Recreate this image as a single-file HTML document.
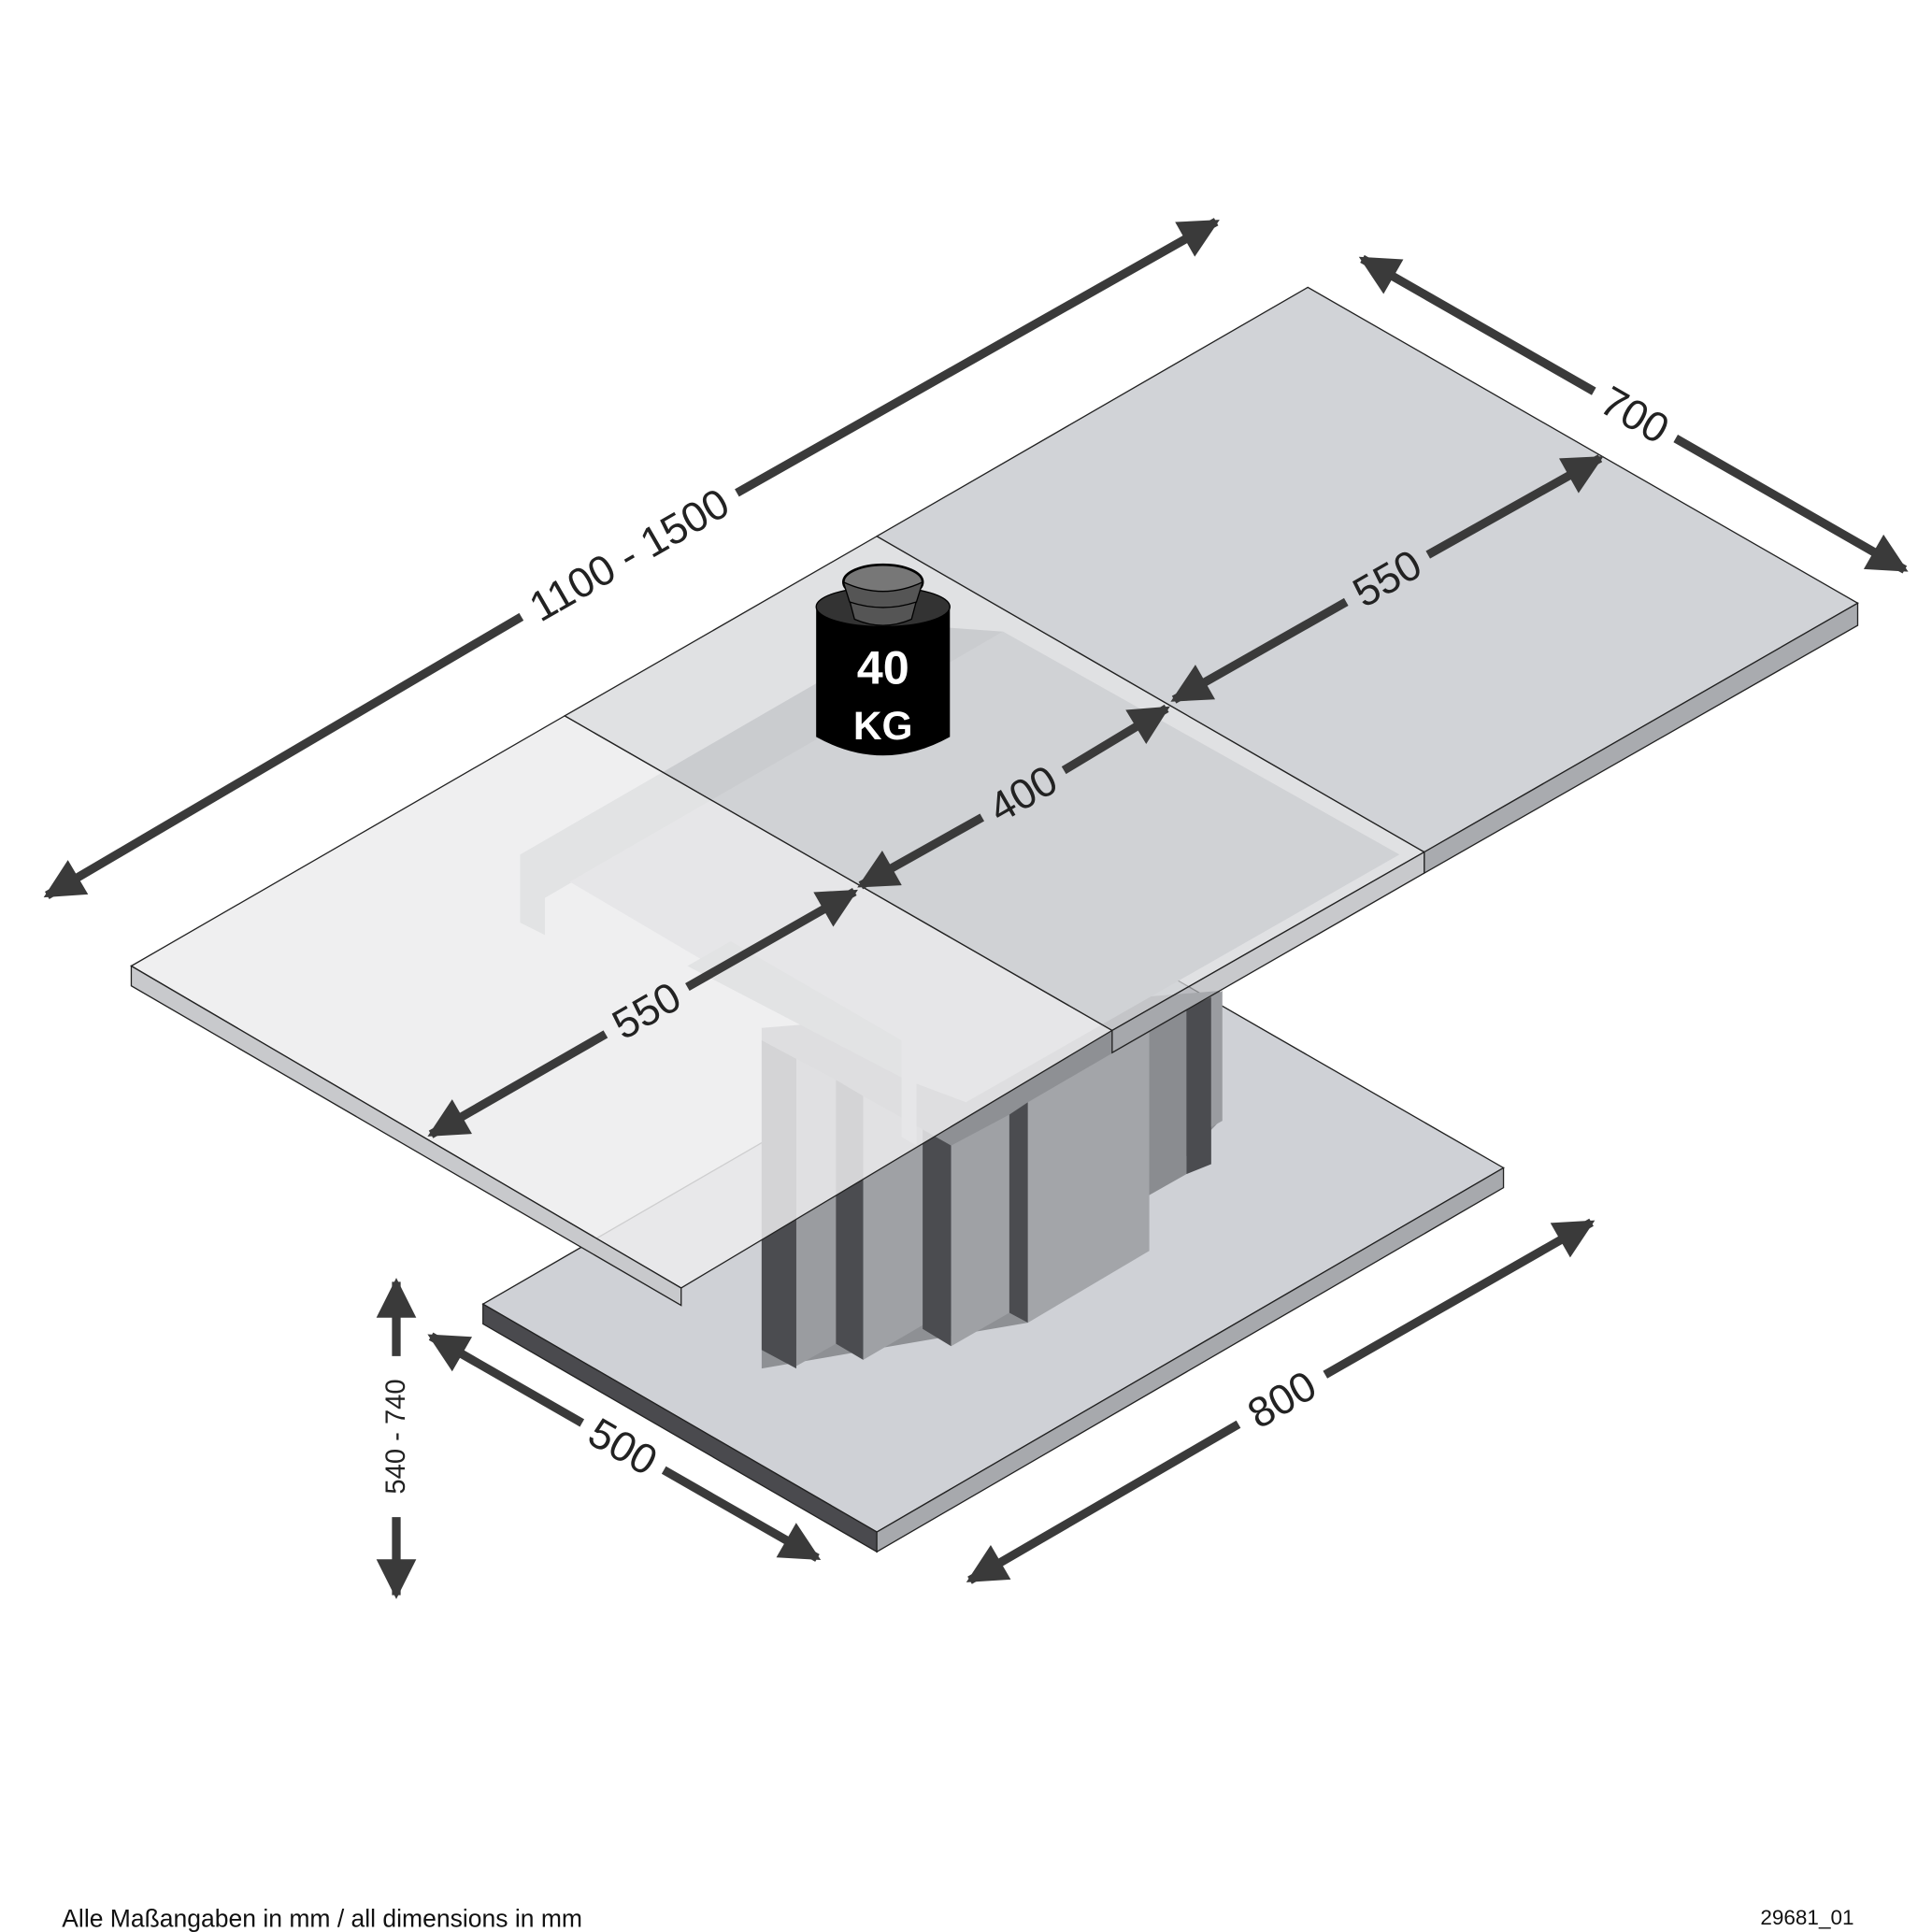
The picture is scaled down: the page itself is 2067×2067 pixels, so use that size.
<!DOCTYPE html>
<html><head><meta charset="utf-8"><style>
html,body{margin:0;padding:0;background:#fff}
svg{display:block}
text{font-family:"Liberation Sans",sans-serif}
</style></head><body>
<svg width="2067" height="2067" viewBox="0 0 1560 1560" xmlns="http://www.w3.org/2000/svg">
<defs>
<marker id="ah" viewBox="0 0 10 10" refX="9" refY="5" markerWidth="5.5" markerHeight="4.6" orient="auto-start-reverse" markerUnits="strokeWidth">
<path d="M0,0 L10,5 L0,10 Z" fill="#3a3a3a"/></marker>
</defs>
<!-- base plate -->
<polygon points="390,1053 896,760 1214,943 708,1237" fill="#cfd1d6" stroke="#222" stroke-width="1"/>
<polygon points="390,1053 708,1237 708,1253 390,1069" fill="#4a4a4e" stroke="#222" stroke-width="1"/>
<polygon points="708,1237 1214,943 1214,959 708,1253" fill="#a7a9ad" stroke="#222" stroke-width="1"/>
<!-- pillar -->
<polygon points="615,830 985,800 985,905 830,1068 615,1105" fill="#8e9094"/>
<polygon points="615,840 643,855 643,1105 615,1090" fill="#4b4c50"/>
<polygon points="643,855 675,872 675,1085 643,1103" fill="#9a9ca0"/>
<polygon points="675,872 697,885 697,1098 675,1085" fill="#4b4c50"/>
<polygon points="697,885 745,912 745,1070 697,1098" fill="#9fa1a5"/>
<polygon points="745,912 768,925 768,1087 745,1073" fill="#4b4c50"/>
<polygon points="768,925 815,900 815,1060 768,1087" fill="#9fa1a5"/>
<polygon points="815,900 830,890 830,1068 815,1060" fill="#4b4c50"/>
<polygon points="830,890 928,833 928,1010 830,1068" fill="#a3a5a9"/>
<polygon points="928,833 958,815 958,948 928,965" fill="#8a8c90"/>
<polygon points="958,815 978,805 978,940 958,948" fill="#4b4c50"/>
<polygon points="978,805 987,800 987,905 978,910" fill="#9a9ca0"/>
<!-- underframe -->
<polygon points="420,690 740,505 810,510 440,725 440,755 420,745" fill="#a9abaf"/>
<polygon points="460,712 810,510 1130,690 780,890 740,875 740,925 728,918 728,870" fill="#c0c2c6"/>
<polygon points="555,780 590,760 728,840 728,870" fill="#a9abaf"/>
<!-- tabletop -->
<polygon points="106,780 456,578 898,832 550,1040" fill="#ececed" fill-opacity="0.85" stroke="#222" stroke-width="1"/>
<polygon points="456,578 708,433 1150,688 898,832" fill="#d6d7da" fill-opacity="0.75" stroke="#222" stroke-width="1"/>
<polygon points="708,433 1056,232 1500,487 1150,688" fill="#d1d3d7" stroke="#222" stroke-width="1"/>
<polygon points="106,780 550,1040 550,1054 106,796" fill="#c8c9cc" stroke="#222" stroke-width="1"/>
<polygon points="1150,688 1500,487 1500,505 1150,705" fill="#a9abaf" stroke="#222" stroke-width="1"/>
<polygon points="898,832 1150,688 1150,705 898,850" fill="#b0b2b6" fill-opacity="0.7" stroke="#222" stroke-width="1"/>
<!-- arrows -->
<g stroke="#3a3a3a" stroke-width="7" fill="none">
<line x1="421" y1="498" x2="38" y2="723" marker-end="url(#ah)"/>
<line x1="595" y1="398" x2="982" y2="179" marker-end="url(#ah)"/>
<line x1="1287" y1="316" x2="1100" y2="209" marker-end="url(#ah)"/>
<line x1="1353" y1="354" x2="1538" y2="460" marker-end="url(#ah)"/>
<line x1="1087" y1="486" x2="948" y2="565" marker-end="url(#ah)"/>
<line x1="1153" y1="448" x2="1292" y2="370" marker-end="url(#ah)"/>
<line x1="793" y1="660" x2="695" y2="715" marker-end="url(#ah)"/>
<line x1="859" y1="622" x2="942" y2="572" marker-end="url(#ah)"/>
<line x1="489" y1="835" x2="348" y2="916" marker-end="url(#ah)"/>
<line x1="555" y1="797" x2="690" y2="720" marker-end="url(#ah)"/>
<line x1="470" y1="1149" x2="348" y2="1079" marker-end="url(#ah)"/>
<line x1="536" y1="1187" x2="660" y2="1258" marker-end="url(#ah)"/>
<line x1="1000" y1="1150" x2="783" y2="1276" marker-end="url(#ah)"/>
<line x1="1070" y1="1110" x2="1285" y2="987" marker-end="url(#ah)"/>
<line x1="320" y1="1095" x2="320" y2="1035" marker-end="url(#ah)"/>
<line x1="320" y1="1225" x2="320" y2="1288" marker-end="url(#ah)"/>
</g>
<g font-size="34" fill="#222" text-anchor="middle" dominant-baseline="central">
<text transform="translate(508,448) rotate(-30)">1100 - 1500</text>
<text transform="translate(1320,335) rotate(30)">700</text>
<text transform="translate(1120,467) rotate(-30)">550</text>
<text transform="translate(826,641) rotate(-30)">400</text>
<text transform="translate(522,816) rotate(-30)">550</text>
<text transform="translate(503,1168) rotate(30)">500</text>
<text transform="translate(1035,1130) rotate(-30)">800</text>
<text transform="translate(320,1160) rotate(-90)" font-size="22">540 - 740</text>
</g>
<!-- weight -->
<g>
<path d="M659,490 Q713,470 767,490 L767,595 Q713,625 659,595 Z" fill="#000"/>
<ellipse cx="713" cy="490" rx="54" ry="16" fill="#333" stroke="#000"/>
<path d="M686,485 L690,500 Q713,510 736,500 L740,485 Z" fill="#555" stroke="#000"/>
<ellipse cx="713" cy="470" rx="32" ry="14" fill="#777" stroke="#000" stroke-width="2"/>
<path d="M681,470 L686,486 Q713,495 740,486 L745,470 Q713,485 681,470Z" fill="#555" stroke="#000"/>
<text x="713" y="552" font-size="38" font-weight="bold" fill="#fff" text-anchor="middle">40</text>
<text x="713" y="597" font-size="32" font-weight="bold" fill="#fff" text-anchor="middle">KG</text>
</g>
<text x="50" y="1556" font-size="20" fill="#111">Alle Maßangaben in mm / all dimensions in mm</text>
<text x="1497" y="1554" font-size="17" fill="#111" text-anchor="end">29681_01</text>
</svg>
</body></html>
